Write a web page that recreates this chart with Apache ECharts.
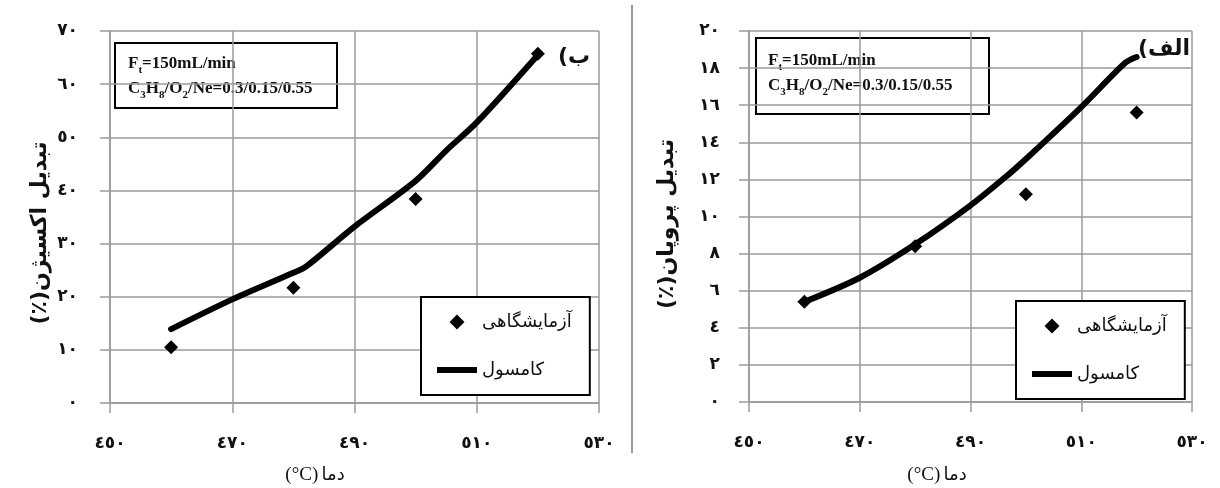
<!DOCTYPE html>
<html><head><meta charset="utf-8">
<script src="https://cdn.jsdelivr.net/npm/echarts@6/dist/echarts.min.js"></script>
<style>html,body{margin:0;padding:0;background:#fff}#c{width:1220px;height:488px}</style>
</head><body><div id="c"></div>
<script>
// ---- data ----
const expTemps = [460, 480, 500, 520];
const oxygenExp = [10.5, 21.7, 38.4, 65.7];
const oxygenModelT = [460, 470, 480, 482, 490, 500, 505, 510, 520];
const oxygenModel = [13.9, 19.5, 24.5, 25.6, 33.2, 41.8, 47.5, 52.8, 65.5];
const propaneExp = [5.4, 8.4, 11.2, 15.6];
const propaneModelT = [460, 470, 480, 490, 497, 500, 510, 518, 520];
const propaneModel = [5.4, 6.7, 8.5, 10.6, 12.3, 13.1, 15.9, 18.3, 18.6];
const xTickValues = [450, 470, 490, 510, 530];
const xTickLabels = ['٤٥٠', '٤٧٠', '٤٩٠', '٥١٠', '٥٣٠'];
const oxyTickValues = [0, 10, 20, 30, 40, 50, 60, 70];
const oxyTickLabels = ['٠', '١٠', '٢٠', '٣٠', '٤٠', '٥٠', '٦٠', '٧٠'];
const propTickValues = [0, 2, 4, 6, 8, 10, 12, 14, 16, 18, 20];
const propTickLabels = ['٠', '٢', '٤', '٦', '٨', '١٠', '١٢', '١٤', '١٦', '١٨', '٢٠'];
const expName = 'آزمایشگاهی';
const modelName = 'کامسول';

const pair = (xs, ys) => xs.map((x, i) => [x, ys[i]]);
const fmt = (vals, labs) => v => { const i = vals.indexOf(v); return i >= 0 ? labs[i] : ''; };

const GRID = '#9a9a9a';
const arFont = '"DejaVu Sans", sans-serif';
const serif = '"Liberation Serif", "DejaVu Serif", serif';

function xAx(idx) {
  return {
    type: 'value', gridIndex: idx, min: 450, max: 530, interval: 20,
    axisLine: { show: true, lineStyle: { color: GRID, width: 1.5 } },
    axisTick: { show: true, length: 10, lineStyle: { color: GRID, width: 1.5 } },
    splitLine: { show: true, lineStyle: { color: GRID, width: 1.5 } },
    axisLabel: { margin: 32, color: '#111', fontSize: 17, fontWeight: 'bold', fontFamily: arFont,
      formatter: fmt(xTickValues, xTickLabels) }
  };
}
function yAx(idx, max, interval, vals, labs, margin) {
  return {
    type: 'value', gridIndex: idx, min: 0, max: max, interval: interval,
    axisLine: { show: true, lineStyle: { color: GRID, width: 1.5 } },
    axisTick: { show: true, length: 10, lineStyle: { color: GRID, width: 1.5 } },
    splitLine: { show: true, lineStyle: { color: GRID, width: 1.5 } },
    axisLabel: { margin: margin, color: '#111', fontSize: 17, fontWeight: 'bold', fontFamily: arFont,
      formatter: fmt(vals, labs) }
  };
}
function legendAt(left, top) {
  return {
    left: left, top: top, orient: 'vertical',
    symbolKeepAspect: true,
    data: [
      { name: expName, icon: 'path://M0,-7L7,0L0,7L-7,0Z' },
      { name: modelName, icon: 'path://M0,0L40,0L40,6L0,6Z' }
    ],
    itemWidth: 40, itemHeight: 15, itemGap: 30,
    borderColor: '#000', borderWidth: 2, padding: [16, 18, 16, 16],
    backgroundColor: '#fff',
    itemStyle: { opacity: 1 },
    textStyle: { fontSize: 18, color: '#111', fontFamily: arFont },
    selectedMode: false
  };
}
function infoBox(x, y, w, h, tx, ty) {
  return {
    type: 'group', left: x, top: y, z: 100,
    children: [
      { type: 'rect', shape: { x: 0, y: 0, width: w, height: h }, style: { fill: '#fff', stroke: '#000', lineWidth: 2 } },
      { type: 'text', x: tx, y: ty, style: {
          text: '{n|F}{s|t}{n|=150mL/min}\n{n|C}{s|3}{n|H}{s|8}{n|/O}{s|2}{n|/Ne=0.3/0.15/0.55}',
          rich: {
            n: { fontSize: 17, fontWeight: 'bold', fontFamily: serif, fill: '#111', lineHeight: 25, verticalAlign: 'middle' },
            s: { fontSize: 11, fontWeight: 'bold', fontFamily: serif, fill: '#111', lineHeight: 16, verticalAlign: 'bottom' }
          }
        } }
    ]
  };
}

const chart = echarts.init(document.getElementById('c'), null, { renderer: 'canvas' });
chart.setOption({
  backgroundColor: '#fff',
  animation: false,
  grid: [
    { left: 110, top: 31, width: 489, height: 372 },
    { left: 749, top: 31, width: 443, height: 371 }
  ],
  xAxis: [xAx(0), xAx(1)],
  yAxis: [
    yAx(0, 70, 10, oxyTickValues, oxyTickLabels, 32),
    yAx(1, 20, 2, propTickValues, propTickLabels, 29)
  ],
  legend: [legendAt(421, 297), legendAt(1016, 301)],
  series: [
    { name: modelName, type: 'line', xAxisIndex: 0, yAxisIndex: 0, data: pair(oxygenModelT, oxygenModel),
      symbol: 'none', smooth: 0.3, lineStyle: { color: '#000', width: 6, cap: 'round', join: 'round' }, itemStyle: { color: '#000' }, z: 3 },
    { name: expName, type: 'scatter', xAxisIndex: 0, yAxisIndex: 0, data: pair(expTemps, oxygenExp),
      symbol: 'diamond', symbolSize: 14, itemStyle: { color: '#000', opacity: 1 }, z: 4 },
    { name: modelName, type: 'line', xAxisIndex: 1, yAxisIndex: 1, data: pair(propaneModelT, propaneModel),
      symbol: 'none', smooth: 0.3, lineStyle: { color: '#000', width: 6, cap: 'round', join: 'round' }, itemStyle: { color: '#000' }, z: 3 },
    { name: expName, type: 'scatter', xAxisIndex: 1, yAxisIndex: 1, data: pair(expTemps, propaneExp),
      symbol: 'diamond', symbolSize: 14, itemStyle: { color: '#000', opacity: 1 }, z: 4 }
  ],
  graphic: [
    { type: 'line', shape: { x1: 632, y1: 5, x2: 632, y2: 453 }, style: { stroke: '#9a9a9a', lineWidth: 2 } },
    infoBox(114, 42, 222, 65, 13, 8),
    infoBox(755, 37, 233, 76, 12, 10),
    { type: 'text', x: 40, y: 233, rotation: Math.PI / 2, style: {
        text: '(٪)تبدیل اکسیژن', fontSize: 22, fontWeight: 'bold', fontFamily: arFont, fill: '#111', align: 'center', verticalAlign: 'middle' } },
    { type: 'text', x: 667, y: 224, rotation: Math.PI / 2, style: {
        text: '(٪)تبدیل پروپان', fontSize: 22, fontWeight: 'bold', fontFamily: arFont, fill: '#111', align: 'center', verticalAlign: 'middle' } },
    { type: 'text', x: 315, y: 475, style: {
        text: '{a|(°C)} {b|دما}', align: 'center', verticalAlign: 'middle',
        rich: { a: { fontSize: 19, fontFamily: serif, fill: '#111' }, b: { fontSize: 18, fontFamily: arFont, fill: '#111' } } } },
    { type: 'text', x: 937, y: 475, style: {
        text: '{a|(°C)} {b|دما}', align: 'center', verticalAlign: 'middle',
        rich: { a: { fontSize: 19, fontFamily: serif, fill: '#111' }, b: { fontSize: 18, fontFamily: arFont, fill: '#111' } } } },
    { type: 'text', x: 574, y: 57, z: 50, style: {
        text: '(ب', fontSize: 22, fontWeight: 'bold', fontFamily: arFont, fill: '#111', align: 'center', verticalAlign: 'middle' } },
    { type: 'text', x: 1164, y: 49, z: 50, style: {
        text: '(الف', fontSize: 22, fontWeight: 'bold', fontFamily: arFont, fill: '#111', align: 'center', verticalAlign: 'middle' } }
  ]
});
</script></body></html>
